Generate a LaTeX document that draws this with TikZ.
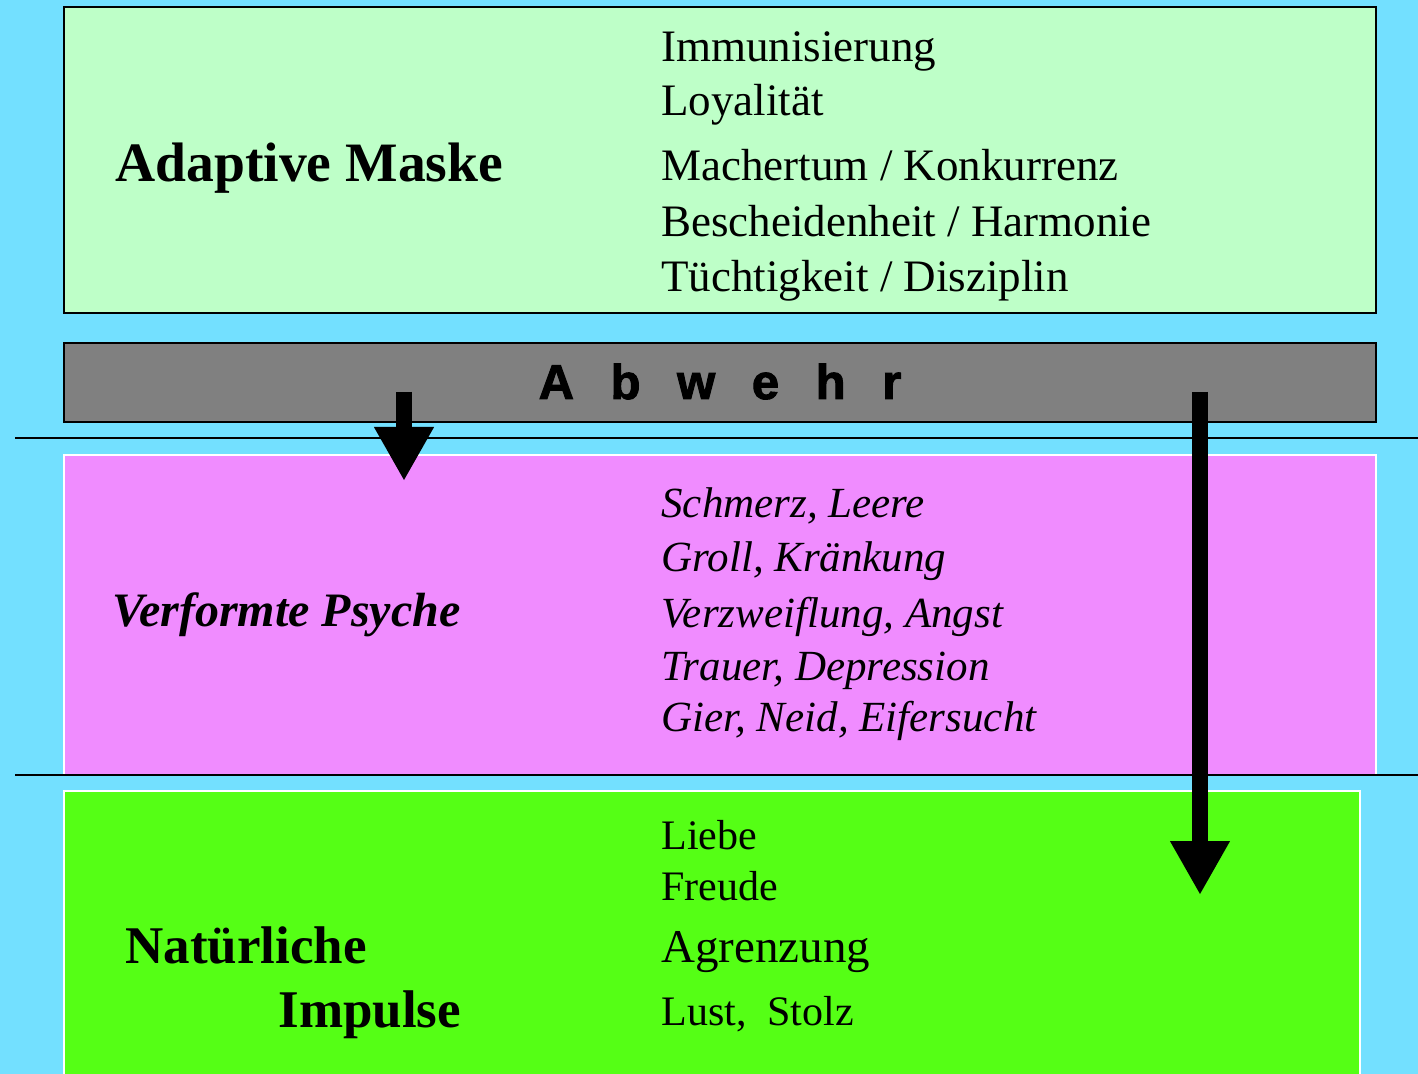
\documentclass[tikz,border=0pt]{standalone}
\usepackage{fontspec}
\setmainfont{Liberation Serif}
\newfontfamily\abwehrfont[FakeBold=2]{Liberation Sans Bold}
\usetikzlibrary{arrows.meta}
\definecolor{himmel}{RGB}{115,224,255}
\definecolor{maske}{RGB}{190,255,200}
\definecolor{abwehrgrau}{RGB}{128,128,128}
\definecolor{psyche}{RGB}{240,140,255}
\definecolor{impuls}{RGB}{85,255,21}
\newcommand{\abgap}{\hspace{18.3pt}}
\begin{document}
\begin{tikzpicture}[x=0.5pt,y=-0.5pt,
	item/.style={anchor=base west,inner sep=0pt,font=\fontsize{22.5}{27}\selectfont},
	itemit/.style={anchor=base west,inner sep=0pt,font=\fontsize{21.5}{26}\selectfont\itshape},
	itemsm/.style={anchor=base west,inner sep=0pt,font=\fontsize{21}{25}\selectfont},
	title/.style={anchor=base west,inner sep=0pt,font=\fontsize{27.8}{33}\selectfont\bfseries},
	bigarrow/.style={line width=8pt,-{Triangle[width=28pt,length=27pt]}}]
	\useasboundingbox (0,0) rectangle (1418,1074);
	\clip (0,0) rectangle (1418,1074);
	\fill[himmel] (0,0) rectangle (1418,1074);
	% Schichten
	\draw[line width=1pt,fill=maske] (64,7) rectangle (1376,313);
	\draw[line width=1pt,fill=abwehrgrau] (64,343) rectangle (1376,422);
	\draw[line width=1pt,white,fill=psyche] (64,455) rectangle (1376,775);
	\draw[line width=1pt,white,fill=impuls] (64,791) rectangle (1360,1090);
	\draw[line width=1pt] (15,438) -- (1418,438);
	\draw[line width=1pt] (15,775) -- (1418,775);
	% Adaptive Maske
	\node[title] (maske) at (115,182) {Adaptive Maske};
	\node[item] (immun) at (661,62) {Immunisierung};
	\node[item] (loyal) at (661,116) {Loyalität};
	\node[item] (macht) at (661,181) {Machertum / Konkurrenz};
	\node[item] (besch) at (661,237) {Bescheidenheit / Harmonie};
	\node[item] (tuecht) at (661,292) {Tüchtigkeit / Disziplin};
	% Abwehr
	\node[anchor=base,inner sep=0pt,font=\abwehrfont\fontsize{24.5}{29}\selectfont] (abwehr) at (720,399)
		{A\abgap b\abgap w\abgap e\abgap h\abgap r};
	% Verformte Psyche
	\node[title,font=\fontsize{24}{29}\selectfont\bfseries\itshape] (psyche) at (112,626) {Verformte Psyche};
	\node[itemit] (schmerz) at (661,517) {Schmerz, Leere};
	\node[itemit] (groll) at (661,572) {Groll, Kränkung};
	\node[itemit] (verzw) at (661,627) {Verzweiflung, Angst};
	\node[itemit] (trauer) at (661,680) {Trauer, Depression};
	\node[itemit] (gier) at (661,731) {Gier, Neid, Eifersucht};
	% Natuerliche Impulse
	\node[title,font=\fontsize{26.5}{32}\selectfont\bfseries] (natur) at (125,963) {Natürliche};
	\node[title,font=\fontsize{26.5}{32}\selectfont\bfseries] (impulse) at (278,1027) {Impulse};
	\node[itemsm] (liebe) at (661,849) {Liebe};
	\node[itemsm] (freude) at (661,900) {Freude};
	\node[item,font=\fontsize{23.5}{28}\selectfont] (agrenz) at (661,962) {Agrenzung};
	\node[itemsm] (lust) at (661,1025) {Lust,\ \ Stolz};
	% Pfeile
	\coordinate (links) at (404,392);
	\coordinate (linksend) at (404,481);
	\coordinate (rechts) at (1200,392);
	\coordinate (rechtsend) at (1200,895);
	\draw[bigarrow] (links) -- (linksend);
	\draw[bigarrow] (rechts) -- (rechtsend);
\end{tikzpicture}
\end{document}
